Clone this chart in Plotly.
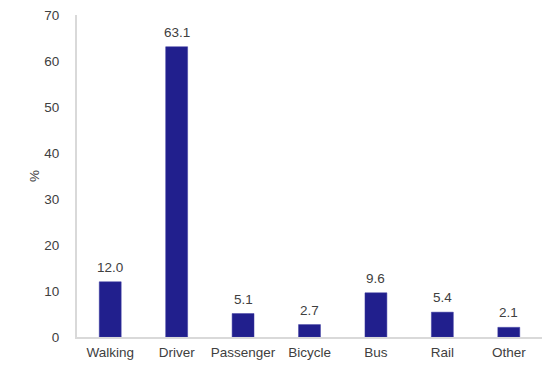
import plotly.graph_objects as go

categories = ["Walking", "Driver", "Passenger", "Bicycle", "Bus", "Rail", "Other"]
values = [12.0, 63.1, 5.1, 2.7, 9.6, 5.4, 2.1]
y_ticks = [0, 10, 20, 30, 40, 50, 60, 70]

fig = go.Figure(go.Bar(
    x=categories, y=values,
    marker=dict(color="#211f8d", line=dict(color="#3a39a0", width=0.5)),
    hoverinfo="x+y",
))
for c, v in zip(categories, values):
    fig.add_annotation(x=c, y=v, text=f"{v:.1f}", showarrow=False,
                       yanchor="bottom", yshift=5,
                       font=dict(family="Liberation Sans, Arial", size=13.5, color="#404040"))
fig.update_layout(
    width=552, height=372,
    margin=dict(l=69, r=18, t=7, b=43),
    paper_bgcolor="white", plot_bgcolor="white",
    bargap=0.67,
    showlegend=False,
    font=dict(family="Liberation Sans, Arial", size=13.5, color="#404040"),
)
fig.update_xaxes(showline=True, linecolor="#d9d9d9", linewidth=2, ticks="",
                 showgrid=False, automargin=False, ticklabelstandoff=2,
                 tickfont=dict(size=13.5, color="#404040"))
fig.update_yaxes(range=[0, 70], tickvals=y_ticks, showline=True, linecolor="#d9d9d9",
                 linewidth=2, showgrid=False, zeroline=False, ticks="",
                 ticklabelstandoff=13, automargin=False, ticklabeloverflow="allow",
                 title=dict(text="%", standoff=2, font=dict(size=13.5, color="#404040")),
                 tickfont=dict(size=13.5, color="#404040"))
fig.write_html("out.html")
